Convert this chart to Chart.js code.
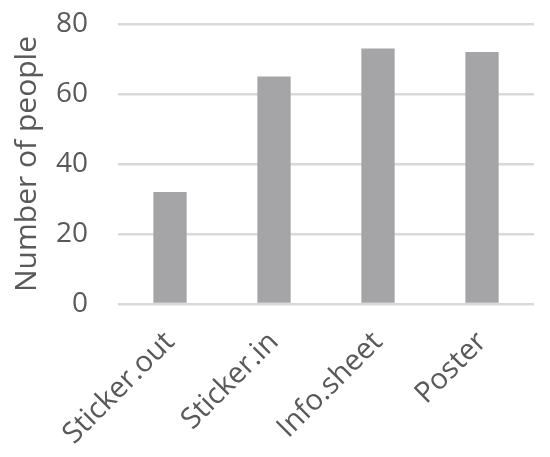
<!DOCTYPE html>
<html>
<head>
<meta charset="utf-8">
<script src="https://cdn.jsdelivr.net/npm/chart.js@4"></script>
<style>
  html, body { margin: 0; padding: 0; background: #fff; }
  #wrap { width: 550px; height: 457px; }
</style>
</head>
<body>
<div id="wrap"><canvas id="chart"></canvas></div>
<script>
var categories = ['Sticker.out', 'Sticker.in', 'Info.sheet', 'Poster'];
var people = [32, 65, 73, 72];
var yTicks = [0, 20, 40, 60, 80];

var textColor = '#595959';
var fontFamily = '"Open Sans", sans-serif';

var ctx = document.getElementById('chart').getContext('2d');
var chart = new Chart(ctx, {
    type: 'bar',
    data: {
        labels: categories,
        datasets: [{
            label: 'Number of people',
            data: people,
            backgroundColor: '#A5A5A8',
            borderWidth: 0,
            barPercentage: 0.64,
            categoryPercentage: 0.5
        }]
    },
    options: {
        responsive: true,
        maintainAspectRatio: false,
        animation: false,
        layout: { padding: { left: 10, right: 16, top: 24, bottom: 2 } },
        plugins: {
            legend: { display: false },
            tooltip: { enabled: false }
        },
        scales: {
            x: {
                grid: { display: false },
                border: { display: false },
                ticks: {
                    color: textColor,
                    font: { family: fontFamily, size: 29 },
                    maxRotation: 45,
                    minRotation: 45,
                    padding: 13
                },
                afterFit: function (axis) {
                    axis.paddingLeft = 0;
                    axis.paddingRight = 0;
                    axis.height = 151;
                }
            },
            y: {
                min: 0,
                max: 80,
                afterBuildTicks: function (axis) {
                    axis.ticks = yTicks.map(function (v) { return { value: v }; });
                },
                grid: { color: '#D9D9D9', lineWidth: 2.5, drawTicks: false },
                border: { display: false },
                ticks: {
                    color: textColor,
                    font: { family: fontFamily, size: 28 },
                    padding: 30
                },
                title: {
                    display: true,
                    text: 'Number of people',
                    color: textColor,
                    font: { family: fontFamily, size: 30, lineHeight: 1 },
                    padding: { top: 2, bottom: 0 }
                },
                afterFit: function (axis) {
                    axis.paddingTop = 0;
                    axis.paddingBottom = 0;
                    axis.width = 108;
                }
            }
        }
    }
});
</script>
</body>
</html>
